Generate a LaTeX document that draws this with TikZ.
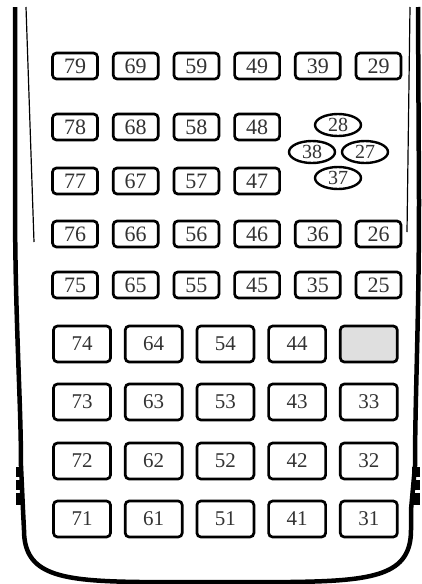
\documentclass[tikz,border=0pt]{standalone}
\usepackage{fontspec}
\setmainfont{Liberation Serif}
\usepackage{tikz}
\usetikzlibrary{positioning,shapes.geometric}

\begin{document}
\begin{tikzpicture}[
    x=1pt, y=1pt,
    smallkey/.style={rectangle, rounded corners=4pt, draw=black, line width=2.7pt, fill=white,
                     minimum width=45pt, minimum height=26pt, inner sep=0pt,
                     text=black!80, font=\fontsize{22}{22}\selectfont},
    bigkey/.style={smallkey, minimum width=57pt, minimum height=36pt,
                   font=\fontsize{21}{21}\selectfont},
    ovalkey/.style={ellipse, draw=black, line width=2.4pt, fill=white,
                    minimum width=46pt, minimum height=22pt, inner sep=0pt,
                    text=black!80, font=\fontsize{20}{20}\selectfont},
    casing/.style={draw=black, line width=4.5pt, line join=round},
    rimline/.style={draw=black, line width=1.2pt}
]
\useasboundingbox (0,0) rectangle (421,-584);

% calculator body
\draw[casing] (15,-7) -- (15,-200) .. controls (15,-320) and (21,-400) .. (21,-466)
    -- (23,-510) -- (24,-530) .. controls (24,-575) and (60,-581) .. (140,-582)
    -- (290,-582) .. controls (375,-581) and (411,-575) .. (411,-530)
    -- (411,-510) -- (415,-466) .. controls (415,-400) and (419,-320) .. (419,-200)
    -- (418,-7);
\fill (16,-467) rectangle (23,-477);
\fill (16,-480) rectangle (23,-490);
\fill (16,-493) rectangle (23,-505);
\fill (412,-467) rectangle (420,-477);
\fill (412,-480) rectangle (420,-490);
\fill (412,-493) rectangle (420,-505);
\draw[rimline] (26,-7) -- (34,-242);
\draw[rimline] (410,-7) -- (407,-232);

% row 9
\node[smallkey] (k79) at (75,-66) {79};
\node[smallkey, right=13pt of k79] (k69) {69};
\node[smallkey, right=13pt of k69] (k59) {59};
\node[smallkey, right=13pt of k59] (k49) {49};
\node[smallkey, right=13pt of k49] (k39) {39};
\node[smallkey, right=13pt of k39] (k29) {29};

% rows 8 and 7
\node[smallkey] (k78) at (75,-127) {78};
\node[smallkey, right=13pt of k78] (k68) {68};
\node[smallkey, right=13pt of k68] (k58) {58};
\node[smallkey, right=13pt of k58] (k48) {48};

\node[smallkey] (k77) at (75,-181) {77};
\node[smallkey, right=13pt of k77] (k67) {67};
\node[smallkey, right=13pt of k67] (k57) {57};
\node[smallkey, right=13pt of k57] (k47) {47};

% cursor pad
\node[ovalkey] (k28) at (338,-125) {28};
\node[ovalkey] (k38) at (312,-152) {38};
\node[ovalkey] (k27) at (365,-152) {27};
\node[ovalkey] (k37) at (338,-178) {37};

% rows 6 and 5
\node[smallkey] (k76) at (75,-234) {76};
\node[smallkey, right=13pt of k76] (k66) {66};
\node[smallkey, right=13pt of k66] (k56) {56};
\node[smallkey, right=13pt of k56] (k46) {46};
\node[smallkey, right=13pt of k46] (k36) {36};
\node[smallkey, right=13pt of k36] (k26) {26};

\node[smallkey] (k75) at (75,-285) {75};
\node[smallkey, right=13pt of k75] (k65) {65};
\node[smallkey, right=13pt of k65] (k55) {55};
\node[smallkey, right=13pt of k55] (k45) {45};
\node[smallkey, right=13pt of k45] (k35) {35};
\node[smallkey, right=13pt of k35] (k25) {25};

% rows 4 to 1
\node[bigkey] (k74) at (82,-344) {74};
\node[bigkey, right=12pt of k74] (k64) {64};
\node[bigkey, right=12pt of k64] (k54) {54};
\node[bigkey, right=12pt of k54] (k44) {44};
\node[bigkey, right=12pt of k44, fill=gray!25] (k34) {};

\node[bigkey] (k73) at (82,-402) {73};
\node[bigkey, right=12pt of k73] (k63) {63};
\node[bigkey, right=12pt of k63] (k53) {53};
\node[bigkey, right=12pt of k53] (k43) {43};
\node[bigkey, right=12pt of k43] (k33) {33};

\node[bigkey] (k72) at (82,-461) {72};
\node[bigkey, right=12pt of k72] (k62) {62};
\node[bigkey, right=12pt of k62] (k52) {52};
\node[bigkey, right=12pt of k52] (k42) {42};
\node[bigkey, right=12pt of k42] (k32) {32};

\node[bigkey] (k71) at (82,-519) {71};
\node[bigkey, right=12pt of k71] (k61) {61};
\node[bigkey, right=12pt of k61] (k51) {51};
\node[bigkey, right=12pt of k51] (k41) {41};
\node[bigkey, right=12pt of k41] (k31) {31};

\end{tikzpicture}
\end{document}
